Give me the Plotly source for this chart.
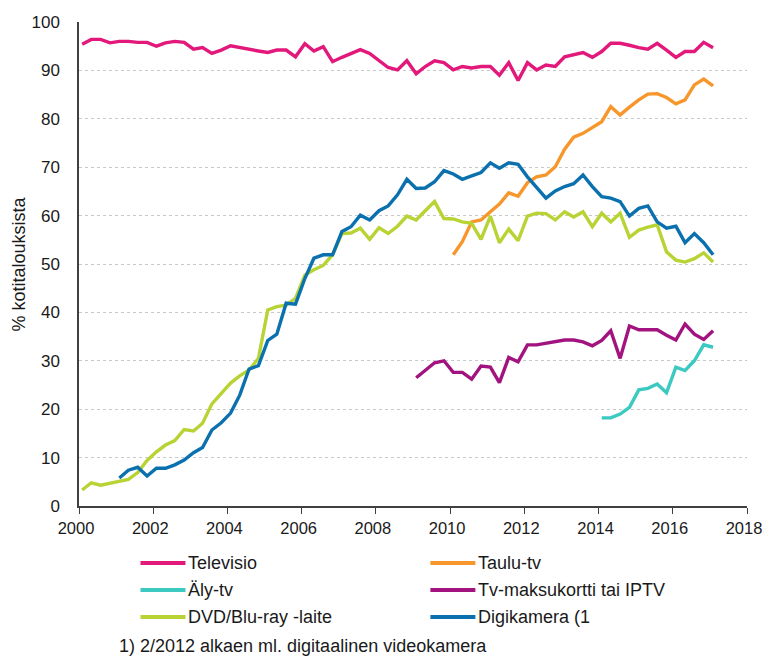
import plotly.graph_objects as go

# Survey months (Feb, May, Aug, Nov) 2/2000 ... 2/2017
kuukaudet = [f"{v}-{k:02d}-01" for v in range(2000, 2018) for k in (2, 5, 8, 11)][:69]

televisio = [95.4, 96.4, 96.4, 95.7, 96.0, 96.0, 95.8, 95.8, 95.0, 95.7, 96.0, 95.8,
             94.4, 94.7, 93.5, 94.2, 95.1, 94.7, 94.3, 94.0, 93.7, 94.2, 94.2, 92.8,
             95.5, 94.0, 94.9, 91.8, 92.7, 93.5, 94.3, 93.5, 92.1, 90.6, 90.1, 92.0,
             89.3, 90.8, 92.0, 91.6, 90.1, 90.8, 90.5, 90.8, 90.8, 89.0, 91.6, 87.9,
             91.6, 90.1, 91.1, 90.8, 92.8, 93.2, 93.7, 92.7, 93.9, 95.6, 95.6, 95.2,
             94.7, 94.4, 95.6, 94.2, 92.7, 93.9, 93.9, 95.8, 94.7]

taulu_tv = [51.9, 54.6, 58.7, 59.1, 60.8, 62.4, 64.7, 64.0, 66.8, 68.0, 68.4, 70.1,
            73.7, 76.2, 77.0, 78.2, 79.4, 82.5, 80.8, 82.4, 83.9, 85.1, 85.2, 84.4,
            83.1, 83.9, 87.0, 88.2, 86.8]

aly_tv = [18.2, 18.2, 19.0, 20.4, 24.0, 24.3, 25.2, 23.4, 28.7, 28.0, 30.0, 33.3, 32.8]

maksukortti = [26.5, 28.0, 29.6, 30.0, 27.6, 27.6, 26.2, 28.9, 28.7, 25.5, 30.7, 29.8,
               33.3, 33.3, 33.6, 33.9, 34.3, 34.3, 33.9, 33.1, 34.2, 36.2, 30.5, 37.2,
               36.4, 36.4, 36.4, 35.3, 34.3, 37.6, 35.5, 34.4, 36.2]

dvd = [3.3, 4.8, 4.3, 4.7, 5.2, 5.5, 6.9, 9.4, 11.2, 12.6, 13.5, 15.8,
       15.5, 17.1, 21.1, 23.3, 25.4, 26.9, 28.1, 30.5, 40.5, 41.2, 41.5, 42.9,
       47.7, 48.8, 49.7, 51.9, 56.3, 56.4, 57.4, 55.1, 57.5, 56.3, 57.8, 59.9,
       59.1, 61.0, 62.9, 59.4, 59.3, 58.7, 58.4, 55.1, 59.9, 54.4, 57.2, 54.8,
       59.9, 60.5, 60.4, 59.1, 60.8, 59.7, 60.8, 57.7, 60.5, 58.7, 60.5, 55.5,
       57.0, 57.6, 58.1, 52.5, 50.8, 50.4, 51.1, 52.3, 50.4]

digikamera = [5.8, 7.4, 8.0, 6.2, 7.8, 7.8, 8.5, 9.5, 11.0, 12.1, 15.7, 17.2,
              19.2, 22.9, 28.3, 29.0, 34.2, 35.5, 41.9, 41.7, 47.0, 51.2, 51.9, 51.9,
              56.7, 57.7, 60.1, 59.1, 61.0, 62.0, 64.3, 67.5, 65.6, 65.7, 67.0, 69.3,
              68.6, 67.5, 68.2, 68.9, 70.9, 69.8, 70.9, 70.6, 68.0, 65.8, 63.6, 65.1,
              66.0, 66.6, 68.4, 66.0, 63.9, 63.6, 62.9, 59.9, 61.5, 62.0, 58.7, 57.4,
              57.8, 54.4, 56.3, 54.4, 51.9]

nimet = ["Televisio", "Taulu-tv", "Äly-tv", "Tv-maksukortti tai IPTV",
         "DVD/Blu-ray -laite", "Digikamera (1"]
sarjat = [televisio, taulu_tv, aly_tv, maksukortti, dvd, digikamera]
varit = ["#e2187b", "#f7962b", "#3cc9c1", "#a2137f", "#b7d334", "#0b71ae"]

# the page body has an 8px margin on every side; keep the page inside the window
OFF = 8
W, H = 772 - 2 * OFF, 664 - 2 * OFF
# plot area in window pixels
L, R, T, B = 78.5, 746.7, 22, 506
FONT = "Liberation Sans, Arial, sans-serif"


def px_x(px):
    return (px - L) / (R - L)


def px_y(py):
    return (B - py) / (B - T)


fig = go.Figure()
for nimi, arvot, vari in zip(nimet, sarjat, varit):
    fig.add_trace(go.Scatter(
        x=kuukaudet[len(kuukaudet) - len(arvot):],
        y=arvot,
        mode="lines",
        name=nimi,
        line=dict(color=vari, width=3.4),
        showlegend=False,
    ))

# legend drawn by hand: two columns, three rows
shapes = []
annotations = []
sarakkeet = [140, 430]
rivit = [563, 590, 617]
for i, (nimi, vari) in enumerate(zip(nimet, varit)):
    x0 = sarakkeet[i % 2]
    y0 = rivit[i // 2]
    shapes.append(dict(type="line", xref="paper", yref="paper",
                       x0=px_x(x0), x1=px_x(x0 + 45), y0=px_y(y0), y1=px_y(y0),
                       line=dict(color=vari, width=4)))
    annotations.append(dict(text=nimi, xref="paper", yref="paper",
                            x=px_x(x0 + 46), y=px_y(y0), xanchor="left", yanchor="middle",
                            showarrow=False, font=dict(size=18, color="#1a1a1a")))

annotations.append(dict(text="1) 2/2012 alkaen ml. digitaalinen videokamera",
                        xref="paper", yref="paper", x=px_x(117), y=px_y(646),
                        xanchor="left", yanchor="middle", showarrow=False,
                        font=dict(size=18, color="#1a1a1a")))
annotations.append(dict(text="% kotitalouksista", xref="paper", yref="paper",
                        x=px_x(18), y=0.5, textangle=-90, xanchor="center", yanchor="middle",
                        showarrow=False, font=dict(size=18, color="#1a1a1a")))

fig.update_layout(
    width=W, height=H,
    margin=dict(l=L - OFF, r=W + OFF - R, t=T - OFF, b=H + OFF - B, pad=0),
    paper_bgcolor="white", plot_bgcolor="white",
    font=dict(family=FONT, size=17, color="#1a1a1a"),
    shapes=shapes,
    annotations=annotations,
    xaxis=dict(
        type="date",
        range=["2000-01-01", "2018-01-01"],
        dtick="M24", tick0="2000-01-01", tickformat="%Y",
        ticks="outside", ticklen=6, tickcolor="#404040",
        ticklabeloverflow="allow", ticklabelshift=-3, automargin=False,
        tickfont=dict(size=16.5),
        showline=True, linecolor="#404040", linewidth=1.5,
        showgrid=False, zeroline=False,
    ),
    yaxis=dict(
        range=[0, 100], dtick=10,
        showline=True, linecolor="#404040", linewidth=1.5,
        ticks="", ticklabelstandoff=14, automargin=False,
        showgrid=True, gridcolor="#c8c8c8", griddash="dot", gridwidth=1,
        zeroline=False,
    ),
)

fig.write_html("out.html")
